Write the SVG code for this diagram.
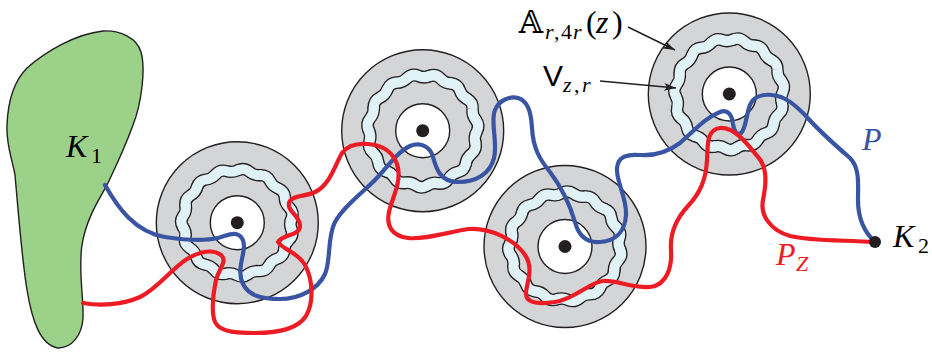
<svg xmlns="http://www.w3.org/2000/svg" width="932" height="355" viewBox="0 0 932 355">
<style>
.ao{fill:#d4d5d7;stroke:#231f20;stroke-width:1.4}
.ai{fill:#ffffff;stroke:#231f20;stroke-width:1.4}
.dot{fill:#231f20}
.bk{stroke:#231f20;stroke-width:12.4;stroke-linecap:round}
.bb{stroke:#e1f2f6;stroke-width:9.8;stroke-linecap:round}
.curve{fill:none;stroke-width:4.2;stroke-linecap:round;stroke-linejoin:round}
.blue{stroke:#3a54a4}
.red{stroke:#ed1c24}
.arrow{stroke:#231f20;stroke-width:1.4;fill:none}
</style>
<defs>
<path id="seg" fill="none" d="M53 0Q55.98 5.88 51.84 11.02Q47.84 15.54 48.42 21.56"/>
<g id="wave">
<use href="#seg"/>
<use href="#seg" transform="rotate(24)"/>
<use href="#seg" transform="rotate(48)"/>
<use href="#seg" transform="rotate(72)"/>
<use href="#seg" transform="rotate(96)"/>
<use href="#seg" transform="rotate(120)"/>
<use href="#seg" transform="rotate(144)"/>
<use href="#seg" transform="rotate(168)"/>
<use href="#seg" transform="rotate(192)"/>
<use href="#seg" transform="rotate(216)"/>
<use href="#seg" transform="rotate(240)"/>
<use href="#seg" transform="rotate(264)"/>
<use href="#seg" transform="rotate(288)"/>
<use href="#seg" transform="rotate(312)"/>
<use href="#seg" transform="rotate(336)"/>
</g>
<marker id="ah" viewBox="0 0 12 8" markerWidth="12" markerHeight="8" refX="12" refY="4" orient="auto" markerUnits="userSpaceOnUse">
<path d="M0,0 L12,4 L0,8 L3,4 Z" fill="#231f20"/>
</marker>
</defs>

<g id="K1">
<path d="M27,68 C45,52 75,34 103,31 C120,30 137,38 141,52 C146,70 141,105 133,125 C124,150 115,168 107,185 C97,203 86,220 82,245 C78,270 84,300 83,318 C82,335 72,348 58,348 C40,345 32,320 27,290 C22,260 19,220 15,175 C12,158 6,145 7,125 C8,100 15,80 27,68 Z" fill="#9cd18a" stroke="#231f20" stroke-width="1.4"/>
<text font-family="'Liberation Serif', serif" font-style="italic" font-size="32" x="66" y="157">K</text>
<text font-family="'Liberation Serif', serif" font-size="22" x="91" y="163">1</text>
</g>

<g id="annulus1" transform="translate(237.3,222.7)">
<circle r="81" class="ao"/>
<use href="#wave" class="bk" transform="rotate(7) scale(1.03,0.99)"/>
<use href="#wave" class="bb" transform="rotate(7) scale(1.03,0.99)"/>
<circle r="27" class="ai"/>
<circle r="6.5" class="dot"/>
</g>

<g id="annulus2" transform="translate(422.7,130.7)">
<circle r="81" class="ao"/>
<use href="#wave" class="bk" transform="rotate(13) scale(1.02,1.04)"/>
<use href="#wave" class="bb" transform="rotate(13) scale(1.02,1.04)"/>
<circle r="27" class="ai"/>
<circle r="6.5" class="dot"/>
</g>

<g id="annulus3" transform="translate(565,246.5)">
<circle r="81" class="ao"/>
<use href="#wave" class="bk" transform="rotate(3) scale(1.04,1.01)"/>
<use href="#wave" class="bb" transform="rotate(3) scale(1.04,1.01)"/>
<circle r="27" class="ai"/>
<circle r="6.5" class="dot"/>
</g>

<g id="annulus4" transform="translate(729.3,94)">
<circle r="81" class="ao"/>
<use href="#wave" class="bk" transform="rotate(10) scale(1.01,1.03)"/>
<use href="#wave" class="bb" transform="rotate(10) scale(1.01,1.03)"/>
<circle r="27" class="ai"/>
<circle r="6.5" class="dot"/>
</g>

<g id="connectors">
<path id="P" class="curve blue" d="M105,185 C118,208 135,232 165,237 C185,240 205,241 218,238 C226,236 230,233 236,234 C244,236 245,245 243,254 C241,264 238,274 243,284 C249,296 262,299 280,299 C300,299 318,289 325,274 C331,261 327,237 335,222 C343,207 362,193 375,180 C387,168 397,152 410,146 C420,142 430,146 433,157 C436,168 440,182 458,182 C476,182 490,174 494,158 C498,142 490,122 495,110 C499,100 510,96 518,98 C528,101 531,112 532,128 C533,148 540,160 550,172 C562,188 570,205 575,222 C579,237 588,243 600,242 C615,241 625,232 626,215 C627,198 616,182 617,168 C618,156 628,154 640,155 C655,156 668,152 680,143 C695,130 705,118 720,112 C728,109 732,115 733,124 C734,131 737,136 741,133 C746,129 746,115 750,105 C753,97 762,94 772,95 C785,96 795,105 805,115 C818,130 835,145 850,158 C860,168 858,185 858,200 C858,215 862,230 875,242"/>
<path id="PZ" class="curve red" d="M83,303 C100,306 122,305 140,297 C158,288 170,270 187,259 C200,251 213,249 221,255 C228,261 219,268 216,280 C213,295 211,312 215,322 C220,333 240,333 255,333 C275,333 297,330 306,316 C314,302 313,280 305,265 C298,252 283,250 278,242 C283,234 300,236 300,226 C300,215 287,212 289,203 C291,195 305,197 315,192 C330,185 335,165 342,153 C347,146 356,143 368,144 C382,145 395,152 398,168 C401,184 392,198 389,212 C386,226 392,236 408,238 C425,240 448,232 468,229 C490,227 515,240 525,255 C534,268 527,282 526,292 C525,302 535,305 555,302 C575,299 590,282 603,281 C618,280 630,288 650,287 C668,285 672,265 671,250 C670,236 675,220 688,206 C700,193 706,180 707,160 C708,145 706,130 720,128 C735,127 748,145 758,157 C768,168 766,185 763,200 C760,215 770,230 790,236 C810,241 840,240 875,242"/>
<line class="arrow" x1="628" y1="27" x2="675" y2="50" marker-end="url(#ah)"/>
<line class="arrow" x1="600" y1="81" x2="676" y2="88" marker-end="url(#ah)"/>
</g>

<g id="K2">
<circle cx="875" cy="242" r="6" class="dot"/>
<text font-family="'Liberation Serif', serif" font-style="italic" font-size="32" x="893" y="247">K</text>
<text font-family="'Liberation Serif', serif" font-size="22" x="918" y="253">2</text>
</g>

<g id="labels">
<text font-family="'Liberation Serif', serif" font-style="italic" font-size="32" x="862" y="150" fill="#3a54a4">P</text>
<text font-family="'Liberation Serif', serif" font-style="italic" font-size="32" x="776" y="265" fill="#ed1c24">P</text>
<text font-family="'Liberation Serif', serif" font-style="italic" font-size="22" x="796" y="271" fill="#ed1c24">Z</text>
<text x="519" y="33" font-family="'DejaVu Serif', 'DejaVu Sans', serif" font-size="31">𝔸</text>
<text font-family="'Liberation Serif', serif" font-style="italic" font-size="22" x="545" y="39">r</text>
<text font-family="'Liberation Serif', serif" font-size="22" x="554" y="39">,</text>
<text font-family="'Liberation Serif', serif" font-size="22" x="561" y="39">4</text>
<text font-family="'Liberation Serif', serif" font-style="italic" font-size="22" x="573" y="39">r</text>
<text font-family="'Liberation Serif', serif" font-size="32" x="586" y="33">(</text>
<text font-family="'Liberation Serif', serif" font-style="italic" font-size="32" x="596" y="33">z</text>
<text font-family="'Liberation Serif', serif" font-size="32" x="612" y="33">)</text>
<text x="543" y="86" font-family="'Liberation Sans', Arial, sans-serif" font-size="30">V</text>
<text font-family="'Liberation Serif', serif" font-style="italic" font-size="22" x="563" y="92">z</text>
<text font-family="'Liberation Serif', serif" font-size="22" x="574" y="92">,</text>
<text font-family="'Liberation Serif', serif" font-style="italic" font-size="22" x="582" y="92">r</text>
</g>
</svg>
